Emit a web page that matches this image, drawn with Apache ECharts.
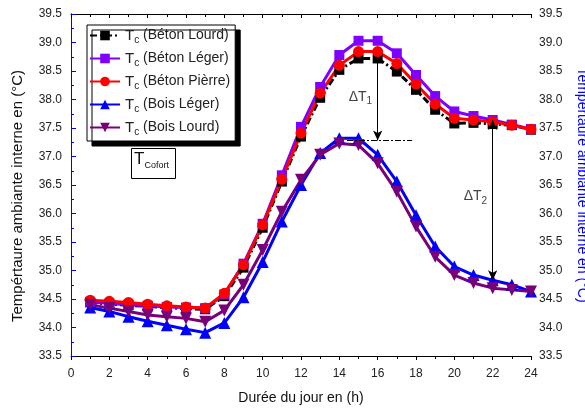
<!DOCTYPE html>
<html>
<head>
<meta charset="utf-8">
<script src="https://cdn.jsdelivr.net/npm/echarts@6/dist/echarts.min.js"></script>
<style>
  html, body { margin: 0; background: #fff; }
  #main { width: 585px; height: 408px; }
</style>
</head>
<body>
<div id="main"></div>
<script>
// heures de la journée
const hours = [1, 2, 3, 4, 5, 6, 7, 8, 9, 10, 11, 12, 13, 14, 15, 16, 17, 18, 19, 20, 21, 22, 23, 24];

// température ambiante interne (°C)
const betonLourd  = [34.44, 34.41, 34.39, 34.37, 34.35, 34.33, 34.32, 34.55, 35.05, 35.75, 36.56, 37.35, 38.03, 38.52, 38.72, 38.72, 38.49, 38.17, 37.82, 37.58, 37.59, 37.57, 37.55, 37.47];
const betonLeger  = [34.45, 34.42, 34.40, 34.38, 34.36, 34.35, 34.34, 34.58, 35.12, 35.82, 36.67, 37.52, 38.22, 38.78, 39.03, 39.03, 38.81, 38.43, 38.06, 37.79, 37.71, 37.64, 37.56, 37.48];
const betonPierre = [34.48, 34.46, 34.44, 34.41, 34.38, 34.36, 34.34, 34.60, 35.10, 35.80, 36.60, 37.41, 38.11, 38.60, 38.84, 38.84, 38.63, 38.27, 37.92, 37.67, 37.64, 37.61, 37.55, 37.48];
const boisLeger   = [34.35, 34.28, 34.19, 34.11, 34.04, 33.97, 33.91, 34.08, 34.53, 35.15, 35.86, 36.50, 37.06, 37.32, 37.32, 37.03, 36.56, 35.97, 35.42, 35.07, 34.92, 34.83, 34.75, 34.63];
const boisLourd   = [34.40, 34.34, 34.28, 34.22, 34.19, 34.16, 34.10, 34.30, 34.75, 35.36, 36.03, 36.59, 37.03, 37.23, 37.20, 36.88, 36.38, 35.77, 35.24, 34.92, 34.78, 34.69, 34.66, 34.63];

// annotations delta T
const deltaT1 = [[16, 38.72], [16, 37.28]];
const deltaT2 = [[22, 37.64], [22, 34.83]];
const refLine = [[14.4, 37.28], [17.8, 37.28]];
const deltaLabels = [
  { coord: [15.1, 38.05], idx: '1' },
  { coord: [21.1, 36.3], idx: '2' }
];

const FONT = '"Liberation Sans", Arial, sans-serif';

const zip = (arr) => hours.map((h, i) => [h, arr[i]]);

const mkSeries = (name, data, color, symbol, size, extra) => Object.assign({
  name: name,
  type: 'line',
  data: zip(data),
  symbol: symbol,
  symbolSize: size,
  showSymbol: true,
  lineStyle: { color: color, width: 3 },
  itemStyle: { color: color },
  emphasis: { disabled: true },
  animation: false
}, extra || {});

const chartDom = document.getElementById('main');
const myChart = echarts.init(chartDom);

const option = {
  animation: false,
  grid: { left: 71, right: 54, top: 14, bottom: 52, outerBoundsMode: 'none', containLabel: false },
  legend: {
    orient: 'vertical',
    left: 87,
    top: 25,
    padding: [3, 5, 4, 2],
    itemWidth: 30,
    itemHeight: 12,
    itemGap: 6,
    backgroundColor: '#fff',
    borderColor: '#000',
    borderWidth: 1,
    shadowColor: '#000',
    shadowBlur: 0,
    shadowOffsetX: 5,
    shadowOffsetY: 5,
    formatter: (name) => '{t|T}{s|c}{n| (' + name + ')}',
    textStyle: {
      fontFamily: FONT,
      color: '#222',
      rich: {
        t: { fontSize: 15, fontFamily: FONT, color: '#222' },
        s: { fontSize: 10, fontFamily: FONT, color: '#222', padding: [9, 0, 0, 0] },
        n: { fontSize: 14, fontFamily: FONT, color: '#222' }
      }
    }
  },
  xAxis: [
    {
      type: 'value',
      min: 0, max: 24, interval: 2,
      name: 'Durée du jour en (h)',
      nameLocation: 'middle',
      nameGap: 35,
      nameTextStyle: { fontFamily: FONT, fontSize: 14, color: '#111' },
      axisLine: { show: true, lineStyle: { color: '#000', width: 1 } },
      axisTick: { show: true, inside: false, length: 4, lineStyle: { color: '#000' } },
      minorTick: { show: true, splitNumber: 2, length: 3, lineStyle: { color: '#000' } },
      axisLabel: { fontFamily: FONT, fontSize: 12, color: '#222', margin: 12 },
      splitLine: { show: false }
    },
    {
      type: 'value',
      position: 'top',
      min: 0, max: 24, interval: 2,
      axisLine: { show: true, lineStyle: { color: '#000', width: 1 } },
      axisTick: { show: true, inside: true, length: 4, lineStyle: { color: '#000' } },
      minorTick: { show: true, splitNumber: 2, length: 3, lineStyle: { color: '#000' } },
      axisLabel: { show: false },
      splitLine: { show: false }
    }
  ],
  yAxis: [
    {
      type: 'value',
      position: 'left',
      min: 33.5, max: 39.5, interval: 0.5,
      name: 'Tempértaure ambiante interne en (°C)',
      nameLocation: 'middle',
      nameRotate: 90,
      nameGap: 46,
      nameTextStyle: { fontFamily: FONT, fontSize: 15, color: '#111', padding: [0, 22, 0, 0] },
      axisLine: { show: true, lineStyle: { color: '#000', width: 1 } },
      axisTick: { show: true, inside: true, length: 5, lineStyle: { color: '#000' } },
      minorTick: { show: true, splitNumber: 2, length: 3, lineStyle: { color: '#000' } },
      axisLabel: { fontFamily: FONT, fontSize: 12, color: '#222', margin: 9, formatter: (v) => v.toFixed(1) },
      splitLine: { show: false }
    },
    {
      type: 'value',
      position: 'right',
      min: 33.5, max: 39.5, interval: 0.5,
      name: 'Tempértaure ambiante interne en (°C)',
      nameLocation: 'middle',
      nameRotate: -90,
      nameGap: 44,
      nameTextStyle: { fontFamily: FONT, fontSize: 14, color: '#0000ff' },
      axisLine: { show: true, lineStyle: { color: '#0000ff', width: 1 } },
      axisTick: { show: true, inside: false, length: 5, lineStyle: { color: '#0000ff' } },
      minorTick: { show: true, splitNumber: 2, length: 3, lineStyle: { color: '#0000ff' } },
      axisLabel: { fontFamily: FONT, fontSize: 12, color: '#222', margin: 8, formatter: (v) => v.toFixed(1) },
      splitLine: { show: false }
    }
  ],
  series: [
    mkSeries('Béton Lourd', betonLourd, '#000000', 'rect', 10, {
      lineStyle: { color: '#000000', width: 3, type: [7, 3, 2, 3] },
      markLine: {
        silent: true,
        animation: false,
        label: { show: false },
        lineStyle: { color: '#000', width: 1, type: 'solid' },
        symbolSize: [7, 10],
        data: [
          [{ coord: deltaT1[0], symbol: 'none' }, { coord: deltaT1[1], symbol: 'arrow' }],
          [{ coord: deltaT2[0], symbol: 'arrow' }, { coord: deltaT2[1], symbol: 'arrow' }],
          [{ coord: refLine[0], symbol: 'none', lineStyle: { type: [6, 2, 2, 2], width: 1, color: '#000' } },
           { coord: refLine[1], symbol: 'none' }]
        ]
      },
      markPoint: {
        silent: true,
        symbol: 'circle',
        symbolSize: 0,
        label: {
          show: true,
          position: 'inside',
          formatter: (p) => '{d|ΔT}{s|' + p.data.idx + '}',
          rich: {
            d: { fontFamily: FONT, fontSize: 14, color: '#444' },
            s: { fontFamily: FONT, fontSize: 10, color: '#444', padding: [9, 0, 0, 0] }
          }
        },
        data: deltaLabels.map((d) => ({ coord: d.coord, idx: d.idx }))
      }
    }),
    mkSeries('Béton Léger', betonLeger, '#7f00ff', 'rect', 10),
    mkSeries('Béton Pièrre', betonPierre, '#ff0000', 'circle', 11),
    mkSeries('Bois Léger', boisLeger, '#0000ff', 'triangle', 12),
    mkSeries('Bois Lourd', boisLourd, '#7a007a', 'triangle', 12, { symbolRotate: 180 })
  ],
  graphic: [
    {
      type: 'rect',
      left: 131, top: 148,
      shape: { width: 44, height: 30 },
      style: { fill: '#fff', stroke: '#000', lineWidth: 1 }
    },
    {
      type: 'text',
      left: 134, top: 151,
      style: {
        text: '{t|T}{s|Cofort}',
        rich: {
          t: { fontFamily: FONT, fontSize: 17, fill: '#111' },
          s: { fontFamily: FONT, fontSize: 9, fill: '#111', padding: [12, 0, 0, 0] }
        }
      }
    }
  ]
};

myChart.setOption(option);
</script>
</body>
</html>
